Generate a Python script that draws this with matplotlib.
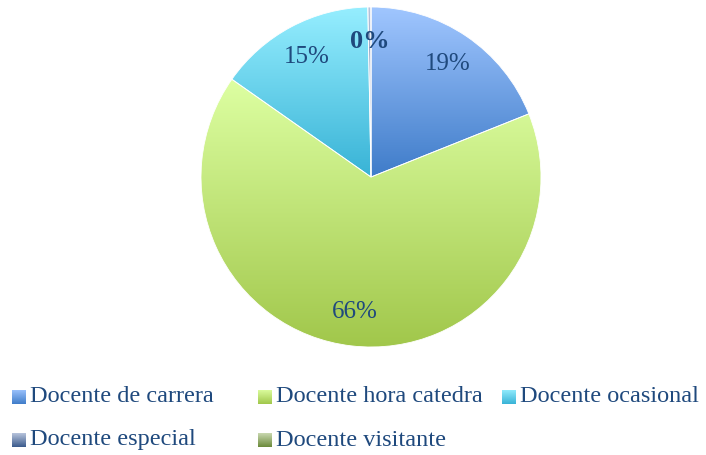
import numpy as np
import matplotlib
matplotlib.use("Agg")
import matplotlib.pyplot as plt
from matplotlib.colors import LinearSegmentedColormap

# data
categories = ["Docente de carrera", "Docente hora catedra", "Docente ocasional",
              "Docente especial", "Docente visitante"]
values = [19, 66, 15, 0.3, 0]

# gradient colours (top, bottom) per slice
grad_top = ["#a0c6ff", "#ddffa2", "#96eeff", "#b8c4dc", "#c9d8b0"]
grad_bot = ["#3f7cc9", "#a1c74b", "#38b3d6", "#3a5a8c", "#6b8a3a"]
txt_color = "#1f497d"

plt.rcParams['font.family'] = ['Liberation Serif', 'DejaVu Serif']

W, H = 706, 455
fig = plt.figure(figsize=(W / 100, H / 100), dpi=100)
ax = fig.add_axes([0, 0, 1, 1])

wedges, texts, autotexts = ax.pie(
    values, center=(371, 278), radius=170, startangle=90, counterclock=False,
    autopct=lambda p: "%d%%" % round(p), pctdistance=0.8,
    wedgeprops=dict(linewidth=0.6, edgecolor="white"),
    textprops=dict(color=txt_color, fontsize=18), frame=True)
ax.set_xlim(0, W)
ax.set_ylim(0, H)
ax.axis('off')


def gradient(c_top, c_bot):
    return LinearSegmentedColormap.from_list("g", [c_bot, c_top])


grad = np.linspace(0, 1, 256).reshape(-1, 1)

# gradient fills clipped to each wedge
for w, c1, c2 in zip(wedges, grad_top, grad_bot):
    bb = w.get_path().get_extents(w.get_transform()).transformed(ax.transData.inverted())
    if bb.width <= 0 or bb.height <= 0:
        continue
    im = ax.imshow(grad, cmap=gradient(c1, c2), origin='lower', aspect='auto',
                   extent=[bb.x0, bb.x1, bb.y0, bb.y1], zorder=w.get_zorder())
    im.set_clip_path(w)
    w.set_facecolor("none")
    w.set_zorder(w.get_zorder() + 0.5)

for t in autotexts:
    t.set_zorder(5)
autotexts[3].set_fontweight("bold")
autotexts[3].set_fontsize(19)
autotexts[4].set_text("")

# legend (row-major, fixed columns like the original)
col_x = [12, 258, 502, 12, 258]
row_y = [397, 397, 397, 440, 440]
box = 14
for name, c1, c2, x, y in zip(categories, grad_top, grad_bot, col_x, row_y):
    sw = fig.add_axes([x / W, 1 - (y + box / 2) / H, box / W, box / H])
    sw.imshow(grad, cmap=gradient(c1, c2), origin='lower', aspect='auto')
    sw.axis('off')
    fig.text((x + box + 4) / W, 1 - y / H, name, color=txt_color,
             fontsize=17.5, va='center', ha='left')

fig.savefig("out.png", dpi=100)
